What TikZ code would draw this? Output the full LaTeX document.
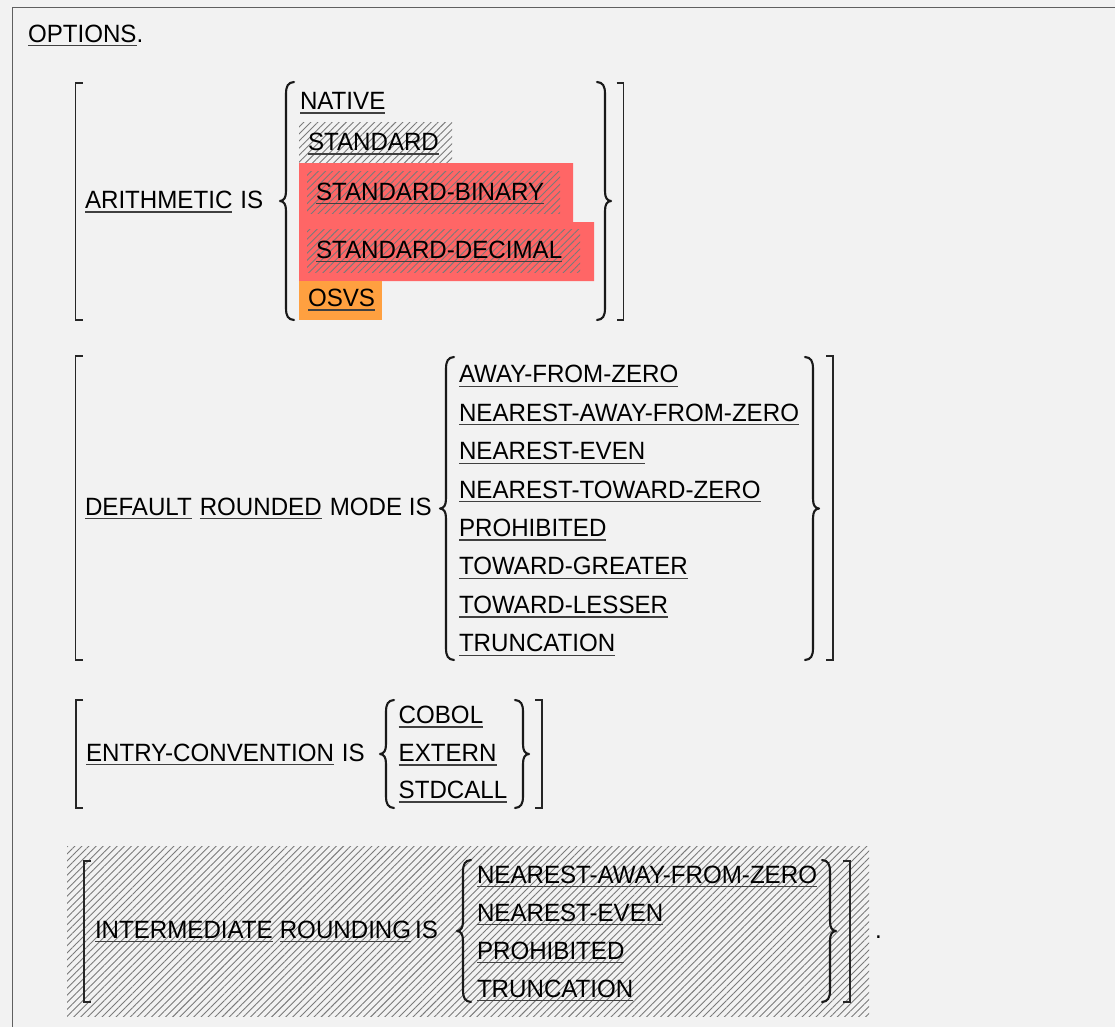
\documentclass[tikz,border=0pt]{standalone}
\usepackage{fontspec}
\setmainfont[FakeStretch=0.965]{Liberation Sans}
\usetikzlibrary{patterns.meta}
\definecolor{bgc}{HTML}{F2F2F2}
\definecolor{framec}{HTML}{606060}
\definecolor{redc}{HTML}{FF6666}
\definecolor{orangec}{HTML}{FFA040}
\definecolor{hatchc}{HTML}{7A7A7A}
\definecolor{ulc}{HTML}{404040}
\tikzset{
  txt/.style={anchor=base west, inner sep=0pt, outer sep=0pt, text=black,
    font=\fontsize{25bp}{30bp}\selectfont},
  uline/.style={draw=ulc, line width=1.3bp},
  brc/.style={draw=black!90, line width=2.1bp, line cap=round, line join=round},
  brk/.style={draw=black!85, line width=1.6bp},
  hatchfill/.style={pattern={Lines[angle=45,distance=5bp,line width=0.9bp]}, pattern color=hatchc},
}
\newcommand\ULtext[4]{%
  \node[txt] (#1) at (#2,#3) {#4};
  \draw[uline] ([yshift=-3.6bp]#1.base west) -- ([yshift=-3.6bp]#1.base east);}
\newcommand\PLtext[4]{\node[txt] (#1) at (#2,#3) {#4};}
\newcommand\PLafter[3]{\node[txt] (#1) at ([xshift=#2]#3.base east) {\strut};}
\newcommand\LB[3]{%
  \pgfmathsetmacro\brmid{(#2+#3)/2}%
  \draw[brc] ({#1+8},#2) .. controls ({#1+2},{#2+0.5}) and (#1,{#2+4}) .. (#1,{#2+12})
    -- (#1,{\brmid-10}) .. controls (#1,{\brmid-3}) and ({#1-2},{\brmid-0.5}) .. ({#1-6},\brmid)
    .. controls ({#1-2},{\brmid+0.5}) and (#1,{\brmid+3}) .. (#1,{\brmid+10})
    -- (#1,{#3-12}) .. controls (#1,{#3-4}) and ({#1+2},{#3-0.5}) .. ({#1+8},#3);}
\newcommand\RB[3]{%
  \pgfmathsetmacro\brmid{(#2+#3)/2}%
  \draw[brc] ({#1-8},#2) .. controls ({#1-2},{#2+0.5}) and (#1,{#2+4}) .. (#1,{#2+12})
    -- (#1,{\brmid-10}) .. controls (#1,{\brmid-3}) and ({#1+2},{\brmid-0.5}) .. ({#1+6},\brmid)
    .. controls ({#1+2},{\brmid+0.5}) and (#1,{\brmid+3}) .. (#1,{\brmid+10})
    -- (#1,{#3-12}) .. controls (#1,{#3-4}) and ({#1-2},{#3-0.5}) .. ({#1-8},#3);}
\newcommand\LK[3]{\draw[brk] ({#1+7},#2) -- (#1,#2) -- (#1,#3) -- ({#1+7},#3);}
\newcommand\RK[3]{\draw[brk] ({#1-7},#2) -- (#1,#2) -- (#1,#3) -- ({#1-7},#3);}
\begin{document}
\begin{tikzpicture}[x=1bp,y=-1bp]
\useasboundingbox (0,0) rectangle (1115,1027);
\fill[bgc] (0,0) rectangle (1115,1027);
\draw[framec, line width=1bp] (12,1027) -- (12,7.5) -- (1115,7.5);

% header
\ULtext{opt}{28}{42}{OPTIONS}
\node[txt] (optdot) at (opt.base east) {.};

% block 1: ARITHMETIC
\fill[hatchfill] (299,122) rectangle (452,163);
\fill[redc] (299,163) -- (573,163) -- (573,222) -- (594,222) -- (594,281) -- (299,281) -- cycle;
\fill[hatchfill] (307,171) rectangle (560,213);
\fill[hatchfill] (307,229) rectangle (580,272);
\fill[orangec] (299,281) rectangle (382,320);
\LK{75.5}{83}{320}
\LB{286}{82}{320}
\RB{605}{82}{320}
\RK{623.5}{83}{320}
\ULtext{arith}{85}{208.5}{ARITHMETIC}
\node[txt] (arithis) at ([xshift=8bp]arith.base east) {IS};
\ULtext{native}{300}{109.5}{NATIVE}
\ULtext{standard}{308}{150.5}{STANDARD}
\ULtext{stdbin}{316}{200}{STANDARD-BINARY}
\ULtext{stddec}{316}{258}{STANDARD-DECIMAL}
\ULtext{osvs}{308}{306.5}{OSVS}

% block 2: DEFAULT ROUNDED MODE
\LK{75.5}{356}{660}
\LB{446}{357}{660}
\RB{813}{357}{660}
\RK{833}{356}{660}
\ULtext{default}{85}{515}{DEFAULT}
\node[txt] (rounded) at ([xshift=8bp]default.base east) {ROUNDED};
\draw[uline] ([yshift=-3.6bp]rounded.base west) -- ([yshift=-3.6bp]rounded.base east);
\node[txt] (modeis) at ([xshift=8bp]rounded.base east) {MODE IS};
\ULtext{r1}{459}{382.7}{AWAY-FROM-ZERO}
\ULtext{r2}{459}{421.1}{NEAREST-AWAY-FROM-ZERO}
\ULtext{r3}{459}{459.6}{NEAREST-EVEN}
\ULtext{r4}{459}{498.0}{NEAREST-TOWARD-ZERO}
\ULtext{r5}{459}{536.4}{PROHIBITED}
\ULtext{r6}{459}{574.9}{TOWARD-GREATER}
\ULtext{r7}{459}{613.3}{TOWARD-LESSER}
\ULtext{r8}{459}{651.7}{TRUNCATION}

% block 3: ENTRY-CONVENTION
\LK{76}{700}{808}
\LB{386}{700}{808}
\RB{523}{700}{808}
\RK{542}{700}{808}
\ULtext{entry}{86}{761}{ENTRY-CONVENTION}
\node[txt] (entryis) at ([xshift=8bp]entry.base east) {IS};
\ULtext{e1}{398.7}{723.3}{COBOL}
\ULtext{e2}{398.7}{761.5}{EXTERN}
\ULtext{e3}{398.7}{798.3}{STDCALL}

% block 4: INTERMEDIATE ROUNDING
\fill[hatchfill] (67,846) rectangle (869,1016);
\LK{84}{861}{1002}
\LB{463}{860}{1002}
\RB{830}{860}{1002}
\RK{850}{861}{1002}
\ULtext{inter}{95}{938}{INTERMEDIATE}
\node[txt] (rounding) at ([xshift=7bp]inter.base east) {ROUNDING};
\draw[uline] ([yshift=-3.6bp]rounding.base west) -- ([yshift=-3.6bp]rounding.base east);
\node[txt] (interis) at ([xshift=4bp]rounding.base east) {IS};
\ULtext{i1}{477}{883}{NEAREST-AWAY-FROM-ZERO}
\ULtext{i2}{477}{921}{NEAREST-EVEN}
\ULtext{i3}{477}{959}{PROHIBITED}
\ULtext{i4}{477}{997}{TRUNCATION}
\PLtext{enddot}{875}{938}{.}
\end{tikzpicture}
\end{document}
